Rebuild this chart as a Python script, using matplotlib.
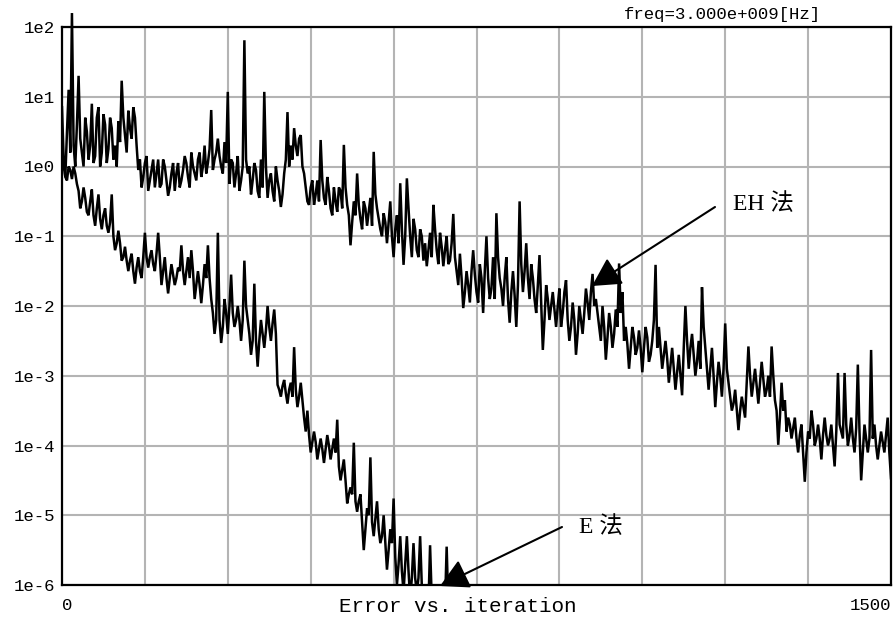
import numpy as np
import matplotlib
matplotlib.use("Agg")
import matplotlib.pyplot as plt
from matplotlib.patches import Rectangle

# ---- data: log10 of error ----
# *_log   : readings at iterations 0, 6, 12, ...
# *_mid   : readings at iterations 3, 9, 15, ...
STEP = 6
eh_log = [
    0.85, -0.15, 1.1, 2.2, 0.0, 1.3, 0.2, 0.7, 0.1, 0.9,
    0.15, 0.85, 0.2, 0.6, 0.25, 0.55, 0.3, 0.65, 1.23, 0.45,
    0.8, 0.4, 0.7, -0.05, -0.3, 0.05, -0.35, -0.05, -0.3, 0.1,
    -0.25, 0.0, -0.42, -0.1, -0.35, 0.05, -0.2, 0.15, -0.15, 0.2,
    -0.1, 0.1, -0.15, 0.3, 0.05, 0.81, 0.1, 0.4, 0.0, 0.35,
    1.07, 0.1, -0.3, 0.15, -0.2, 1.81, -0.1, -0.4, 0.05, -0.35,
    0.1, 1.07, -0.45, -0.1, -0.5, -0.2, -0.58, -0.1, 0.78, 0.3,
    0.55, 0.15, 0.45, -0.1, -0.5, -0.3, -0.55, -0.2, 0.38, -0.45,
    -0.15, -0.6, -0.3, -0.65, -0.35, 0.31, -0.55, -1.13, -0.5, -0.1,
    -0.75, -0.5, -0.85, -0.45, 0.21, -0.6, -0.9, -0.67, -1.1, -0.5,
    -1.3, -0.7, -0.24, -1.41, -0.17, -1.0, -0.75, -1.2, -0.9, -1.35,
    -1.43, -0.95, -0.55, -1.2, -0.95, -1.43, -1.0, -1.35, -0.68, -1.5,
    -1.25, -2.03, -1.5, -1.95, -1.2, -1.8, -1.4, -2.1, -1.0, -1.9,
    -1.3, -0.67, -1.6, -2.0, -1.3, -2.24, -1.5, -2.3, -0.5, -1.8,
    -1.1, -1.9, -1.6, -2.1, -1.27, -2.63, -1.7, -2.2, -1.8, -2.3,
    -1.75, -2.1, -1.63, -2.5, -1.95, -2.7, -2.0, -2.4, -1.75, -2.2,
    -1.54, -1.9, -2.3, -2.0, -2.77, -2.1, -2.6, -2.05, -1.39, -1.8,
    -2.3, -2.9, -2.3, -2.7, -2.35, -2.95, -2.3, -2.8, -2.5, -1.41,
    -2.3, -2.9, -2.5, -3.1, -2.6, -3.2, -2.7, -3.28, -2.0, -2.9,
    -2.4, -3.0, -2.5, -1.73, -2.6, -3.2, -2.6, -3.45, -2.8, -3.3,
    -2.25, -3.1, -3.5, -3.2, -3.78, -3.3, -3.6, -2.58, -3.3, -2.9,
    -3.4, -2.8, -3.3, -3.0, -2.58, -3.35, -3.99, -3.1, -3.35, -3.6,
    -3.9, -3.6, -4.1, -3.7, -4.52, -3.8, -3.5, -4.0, -3.7, -4.2,
    -3.6, -4.0, -3.7, -4.3, -2.96, -3.8, -2.96, -4.0, -3.6, -4.1,
    -2.84, -4.5, -3.7, -4.1, -2.63, -3.7, -4.2, -3.8, -4.1, -3.6,
    -4.47,
]
eh_mid = [
    0.1, 0.5, 0.2, 0.3, 0.6, 0.4, 0.0, 0.5, 0.3, 0.05,
    0.7, 0.0, 0.75, 0.05, 0.7, 0.1, 0.0, 0.35, 0.7, 0.2,
    0.55, 0.85, 0.3, 0.1, -0.15, 0.15, -0.2, 0.1, -0.1, -0.3,
    0.1, -0.2, -0.3, 0.05, -0.1, -0.3, -0.05, 0.05, -0.3, 0.0,
    -0.2, 0.2, 0.0, -0.1, 0.25, -0.05, 0.2, 0.15, -0.1, 0.05,
    -0.25, 0.05, -0.1, -0.35, 0.0, 0.1, 0.0, -0.2, -0.05, -0.45,
    -0.3, 0.0, -0.2, -0.35, 0.0, -0.35, -0.4, 0.1, 0.0, 0.1,
    0.3, 0.4, 0.0, -0.3, -0.55, -0.2, -0.4, -0.5, -0.2, -0.55,
    -0.35, -0.7, -0.5, -0.3, -0.6, -0.3, -0.7, -0.8, -0.7, -0.55,
    -0.9, -0.6, -0.65, -0.85, -0.4, -0.75, -1.0, -0.8, -0.8, -1.0,
    -0.9, -1.1, -0.9, -1.0, -0.6, -1.3, -0.9, -1.3, -1.0, -1.1,
    -1.2, -1.3, -0.9, -1.4, -1.15, -1.2, -1.4, -1.1, -1.3, -1.7,
    -1.6, -1.8, -1.7, -1.5, -1.55, -1.95, -1.6, -1.5, -1.6, -1.75,
    -1.9, -1.3, -1.75, -1.6, -1.9, -1.8, -1.85, -1.7, -1.4, -1.5,
    -1.6, -1.4, -1.9, -1.7, -1.95, -2.2, -1.9, -2.0, -2.05, -2.0,
    -2.3, -1.8, -2.2, -2.3, -2.2, -2.4, -2.2, -2.1, -1.95, -1.8,
    -2.0, -2.1, -2.5, -2.3, -2.45, -2.3, -2.4, -2.3, -2.1, -2.5,
    -2.55, -2.6, -2.45, -2.6, -2.6, -2.6, -2.45, -2.7, -2.2, -2.6,
    -2.6, -2.7, -2.75, -2.85, -2.9, -2.95, -3.0, -2.6, -2.5, -2.6,
    -2.7, -2.8, -2.9, -2.3, -2.9, -2.9, -3.0, -3.1, -3.0, -2.9,
    -2.9, -3.3, -3.4, -3.5, -3.5, -3.45, -3.1, -3.0, -3.1, -3.15,
    -3.1, -3.05, -3.2, -3.3, -3.0, -3.5, -3.6, -3.5, -3.8, -3.7,
    -3.75, -3.9, -3.85, -4.1, -4.1, -3.9, -3.7, -3.9, -3.9, -3.85,
    -3.85, -3.9, -4.0, -3.8, -3.7, -3.9, -3.7, -3.85, -3.9, -3.75,
    -3.8, -4.1, -3.9, -3.9, -3.9, -4.0, -4.0, -3.95, -3.85, -4.1,
]
e_log = [
    -0.05, -0.15, 0.0, -0.18, -0.1, -0.35, -0.5, -0.45, -0.7, -0.33,
    -0.85, -0.4, -0.9, -0.6, -0.95, -0.4, -1.2, -0.92, -1.35, -1.15,
    -1.5, -1.25, -1.68, -1.3, -1.6, -0.95, -1.45, -1.2, -1.5, -0.95,
    -1.7, -1.3, -1.82, -1.4, -1.7, -1.45, -1.13, -1.7, -1.3, -1.2,
    -1.9, -1.5, -1.96, -1.4, -1.13, -1.9, -2.4, -0.95, -2.53, -1.9,
    -2.4, -1.55, -2.3, -2.0, -2.5, -1.35, -2.2, -2.7, -1.68, -2.87,
    -2.2, -2.6, -2.0, -2.5, -2.05, -3.13, -3.3, -3.06, -3.4, -3.1,
    -2.59, -3.45, -3.1, -3.6, -3.5, -4.1, -3.8, -4.2, -3.9, -4.25,
    -3.85, -4.2, -3.9, -3.63, -4.5, -4.2, -4.83, -4.6, -3.96, -4.95,
    -4.7, -5.5, -4.9, -4.17, -5.3, -4.8, -5.4, -5.0, -5.78, -5.2,
    -4.76, -6.0, -5.3, -6.1, -5.3, -6.2, -5.4, -6.1, -5.3, -6.3,
    -6.5, -5.43, -6.5, -6.4, -6.5, -6.4, -5.45, -6.5, -6.6, -6.6,
]
e_mid = [
    0.05, -0.2, -0.05, 0.0, -0.25, -0.6, -0.3, -0.65, -0.5, -0.7,
    -0.6, -0.75, -0.7, -0.85, -0.8, -1.0, -1.1, -1.1, -1.3, -1.35,
    -1.35, -1.5, -1.45, -1.5, -1.3, -1.3, -1.3, -1.4, -1.25, -1.3,
    -1.5, -1.6, -1.6, -1.55, -1.6, -1.5, -1.5, -1.5, -1.6, -1.5,
    -1.7, -1.7, -1.7, -1.6, -1.6, -2.1, -2.2, -2.2, -2.3, -2.1,
    -2.0, -2.1, -2.2, -2.2, -2.2, -2.0, -2.4, -2.5, -2.5, -2.5,
    -2.4, -2.35, -2.3, -2.25, -2.4, -3.2, -3.15, -3.25, -3.2, -3.3,
    -3.2, -3.3, -3.35, -3.8, -3.85, -3.95, -3.95, -4.05, -4.05, -4.05,
    -4.0, -4.05, -4.1, -4.3, -4.35, -4.5, -4.7, -4.7, -4.8, -4.8,
    -5.1, -5.2, -5.0, -5.1, -5.05, -5.2, -5.3, -5.4, -5.5, -5.4,
    -5.6, -5.7, -5.8, -5.7, -5.8, -5.9, -5.9, -5.9, -6.0, -6.4,
    -6.3, -6.2, -6.5, -6.5, -6.5, -6.3, -6.3, -6.6, -6.6,
]
y_exponents = [2, 1, 0, -1, -2, -3, -4, -5, -6]
y_ticklabels = ["1e2", "1e1", "1e0", "1e-1", "1e-2", "1e-3", "1e-4", "1e-5", "1e-6"]
x_ticks = list(range(0, 1501, 150))
x_ticklabels = ["0"] + [""] * 9 + ["1500"]
title_text = "freq=3.000e+009[Hz]"
xlabel_text = "Error vs. iteration"
label_eh = "EH 法"
label_e = "E 法"


def merge(main, mid):
    xa = np.arange(len(main)) * STEP
    xb = np.arange(len(mid)) * STEP + STEP // 2
    x = np.concatenate([xa, xb])
    y = np.concatenate([main, mid])
    order = np.argsort(x, kind="stable")
    return x[order], np.power(10.0, y[order])


# ---- figure ----
W, H = 893, 618
fig = plt.figure(figsize=(W / 100, H / 100), dpi=100)
L, R, T, B = 62, 891, 27, 585
ax = fig.add_axes([L / W, 1 - B / H, (R - L) / W, (B - T) / H])

clip = Rectangle((0, 0), 1, 1.08, transform=ax.transAxes)
for main, mid in ((eh_log, eh_mid), (e_log, e_mid)):
    x, y = merge(main, mid)
    ln, = ax.plot(x, y, color="black", lw=1.8, zorder=3,
                  solid_joinstyle="miter")
    ln.set_clip_path(clip)

ax.set_yscale("log")
ax.set_ylim(1e-6, 1e2)
ax.set_xlim(0, 1500)
ax.set_yticks([10.0 ** k for k in y_exponents])
ax.set_yticklabels(y_ticklabels)
ax.yaxis.set_minor_locator(matplotlib.ticker.NullLocator())
ax.set_xticks(x_ticks)
ax.set_xticklabels(x_ticklabels)
xl = ax.get_xticklabels()
xl[0].set_ha("left")
xl[-1].set_ha("right")

mono = "Liberation Mono"
ax.tick_params(axis="both", length=0, labelsize=12.5)
ax.tick_params(axis="y", pad=5)
ax.tick_params(axis="x", pad=9)
for t in ax.get_xticklabels() + ax.get_yticklabels():
    t.set_family(mono)

ax.grid(True, color="#b4b4b4", lw=1.5)
ax.set_axisbelow(True)
for s in ax.spines.values():
    s.set_color("black")
    s.set_linewidth(1.6)

fig.text(722 / W, 1 - 14 / H, title_text, ha="center", va="center",
         family=mono, fontsize=12.5)
fig.text(458 / W, 1 - 607 / H, xlabel_text, ha="center", va="center",
         family=mono, fontsize=15)

# ---- annotations ----
def px2data(px, py):
    xv = (px - L) / (R - L) * 1500
    yv = 10 ** (2 - (py - T) / ((B - T) / 8))
    return xv, yv

arrow = dict(arrowstyle="-|>,head_length=1.75,head_width=0.95",
             mutation_scale=10, color="black", lw=1.5, shrinkA=0, shrinkB=0)
ax.annotate("", xy=px2data(592, 286), xytext=px2data(715, 207),
            arrowprops=arrow, annotation_clip=False, zorder=5)
ax.annotate("", xy=px2data(440, 586), xytext=px2data(562, 527),
            arrowprops=arrow, annotation_clip=False, zorder=5)
cjk = ["Liberation Serif", "Noto Sans CJK SC"]
ax.text(*px2data(733, 204), label_eh, ha="left", va="center",
        family=cjk, fontsize=17, zorder=5)
ax.text(*px2data(579, 527), label_e, ha="left", va="center",
        family=cjk, fontsize=17, zorder=5)

fig.savefig("out.png", dpi=100)
